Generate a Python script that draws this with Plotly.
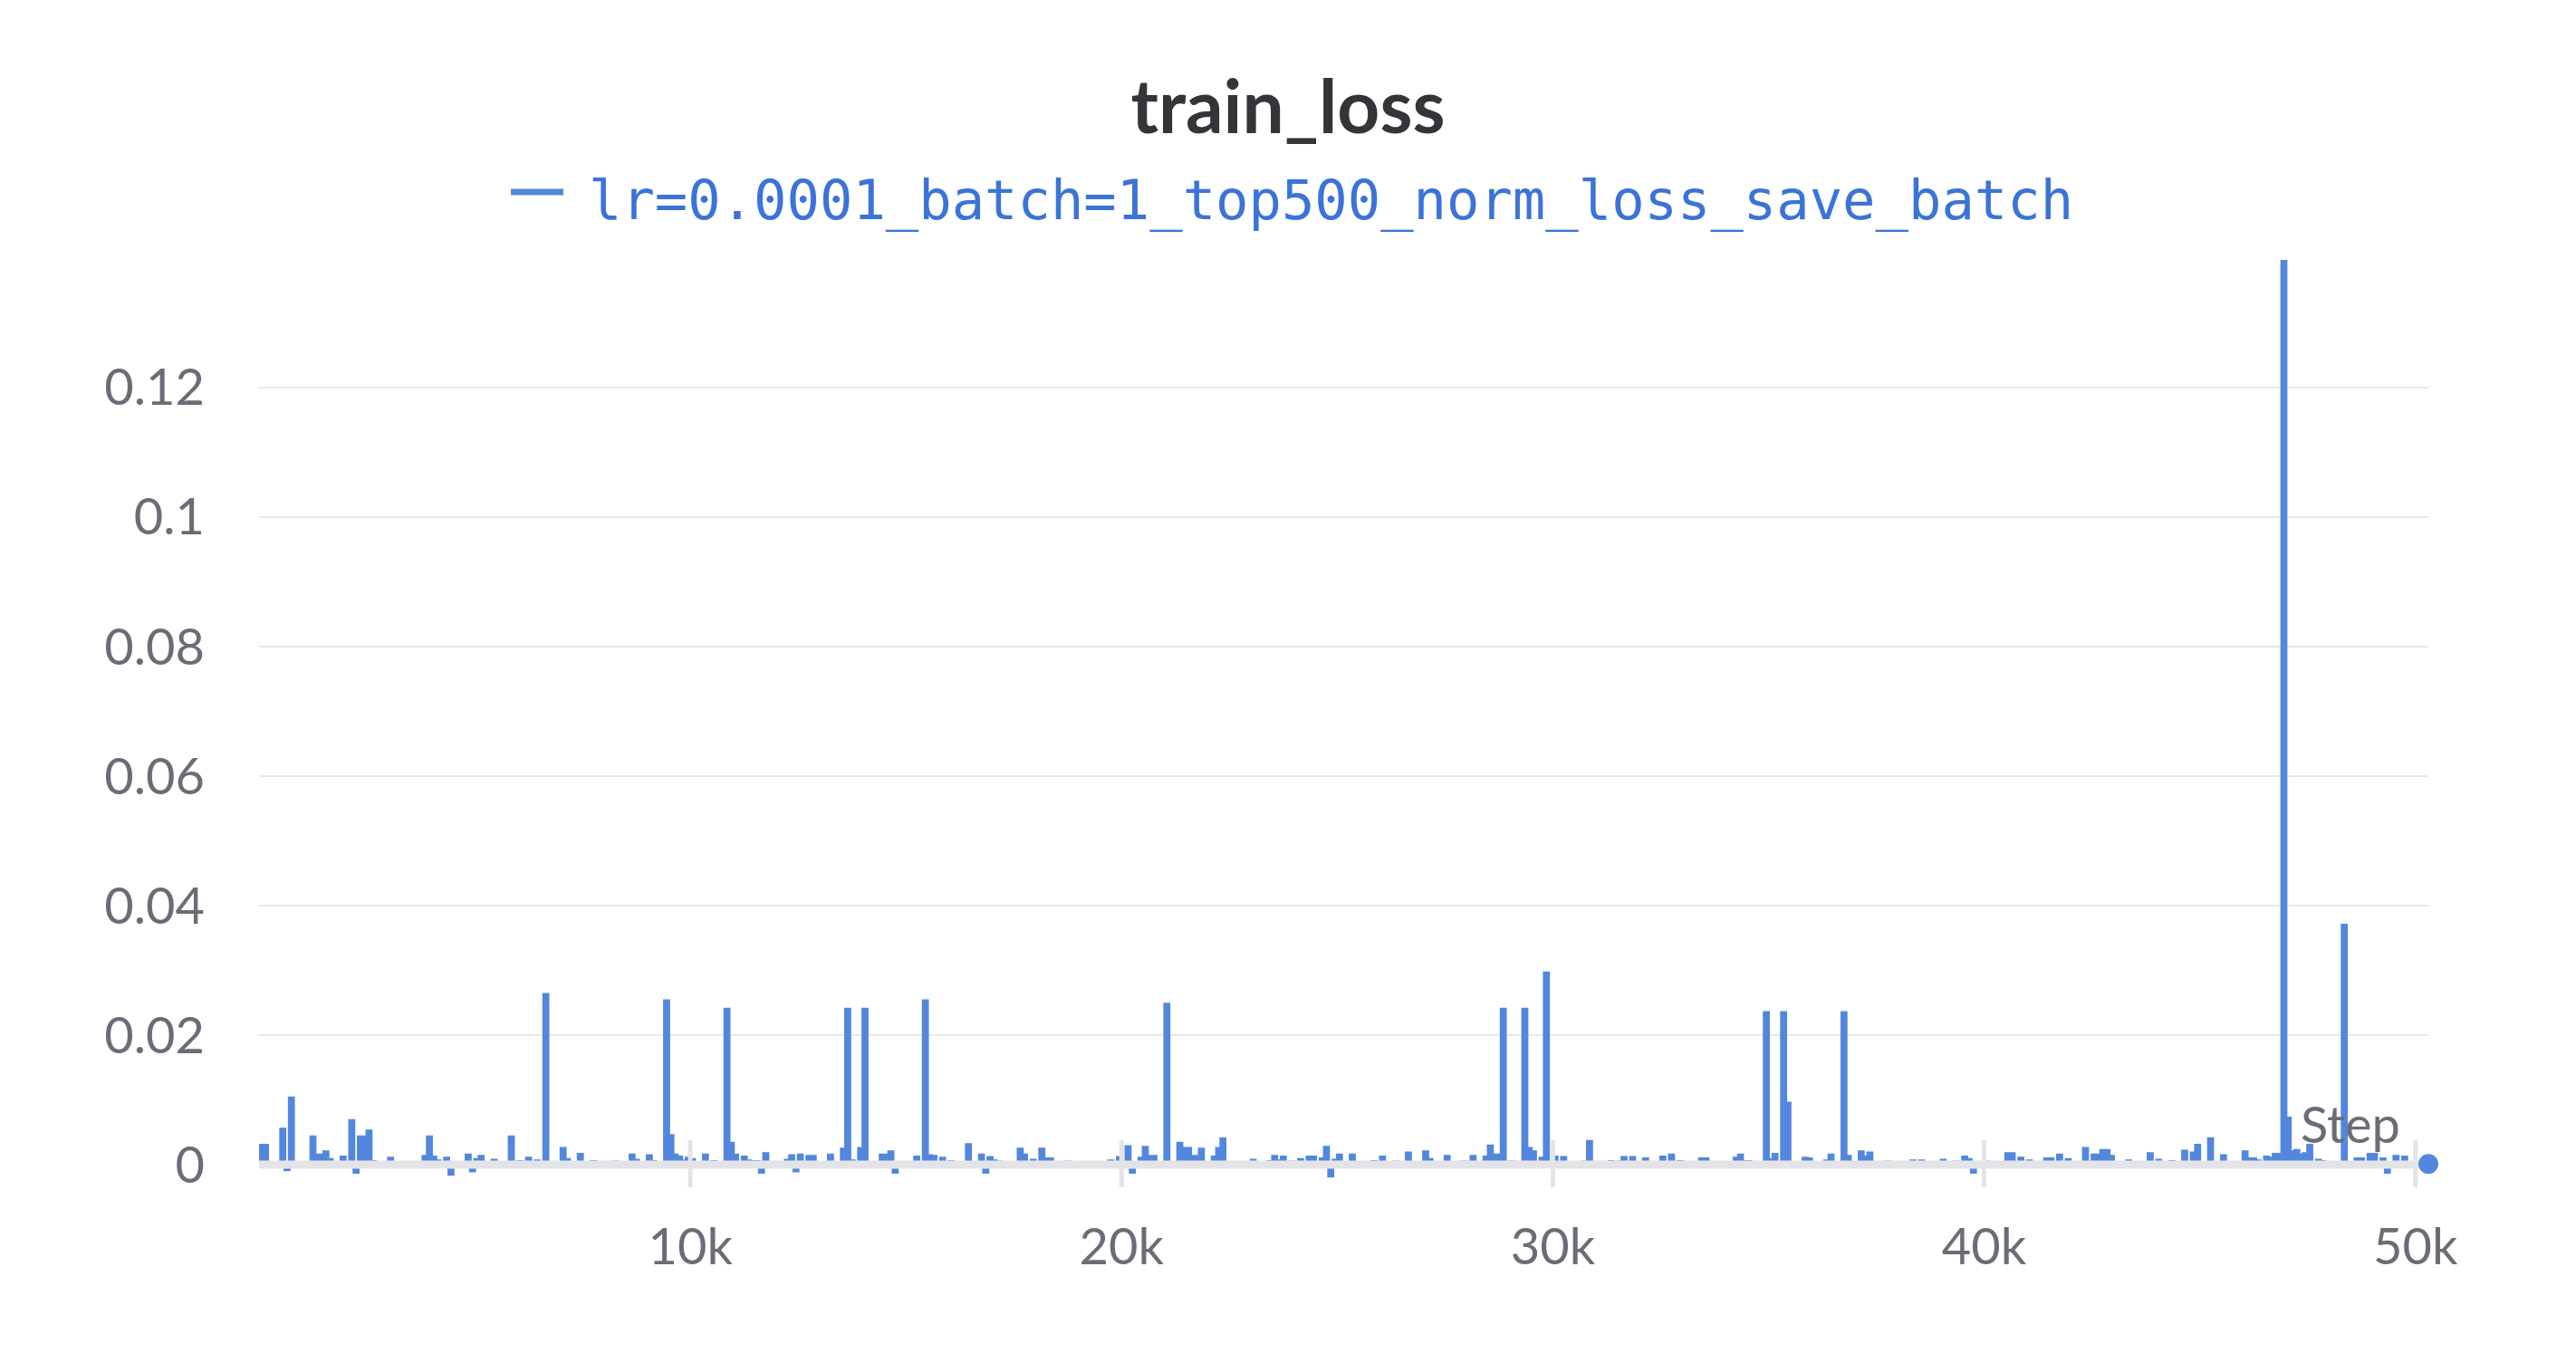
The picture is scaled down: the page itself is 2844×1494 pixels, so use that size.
import plotly.graph_objects as go

# ---- data -------------------------------------------------------------
steps = list(range(0, 50400, 100))
loss = [
    0.0030, 0.0030, 0.0003, 0.0002, 0.0003, 0.0055, -0.0008, 0.0103, 0.0003, 0.0002,
    0.0003, 0.0002, 0.0043, 0.0015, 0.0015, 0.0020, 0.0008, 0.0003, 0.0002, 0.0012,
    0.0003, 0.0068, -0.0012, 0.0043, 0.0043, 0.0052, 0.0005, 0.0003, 0.0002, 0.0003,
    0.0010, 0.0003, 0.0002, 0.0003, 0.0002, 0.0003, 0.0002, 0.0003, 0.0013, 0.0043,
    0.0012, 0.0006, 0.0003, 0.0010, -0.0015, 0.0003, 0.0002, 0.0003, 0.0015, -0.0010,
    0.0008, 0.0013, 0.0003, 0.0002, 0.0007, 0.0002, 0.0003, 0.0002, 0.0043, 0.0003,
    0.0005, 0.0002, 0.0010, 0.0003, 0.0006, 0.0003, 0.0263, 0.0003, 0.0002, 0.0003,
    0.0025, 0.0008, 0.0003, 0.0002, 0.0016, 0.0003, 0.0002, 0.0005, 0.0003, 0.0002,
    0.0003, 0.0002, 0.0004, 0.0003, 0.0002, 0.0003, 0.0015, 0.0007, 0.0003, 0.0002,
    0.0014, 0.0005, 0.0003, 0.0002, 0.0253, 0.0045, 0.0015, 0.0012, 0.0006, 0.0010,
    0.0008, 0.0003, 0.0002, 0.0015, 0.0003, 0.0005, 0.0002, 0.0003, 0.0240, 0.0033,
    0.0015, 0.0003, 0.0012, 0.0006, 0.0005, 0.0005, -0.0012, 0.0017, 0.0003, 0.0002,
    0.0003, 0.0002, 0.0007, 0.0014, -0.0010, 0.0015, 0.0003, 0.0013, 0.0013, 0.0003,
    0.0002, 0.0003, 0.0015, 0.0003, 0.0002, 0.0024, 0.0240, 0.0006, 0.0003, 0.0025,
    0.0240, 0.0003, 0.0002, 0.0003, 0.0015, 0.0015, 0.0020, -0.0012, 0.0003, 0.0002,
    0.0003, 0.0002, 0.0012, 0.0003, 0.0253, 0.0014, 0.0013, 0.0003, 0.0010, 0.0002,
    0.0005, 0.0003, 0.0002, 0.0003, 0.0031, 0.0003, 0.0002, 0.0015, -0.0012, 0.0011,
    0.0006, 0.0004, 0.0002, 0.0003, 0.0002, 0.0003, 0.0024, 0.0015, 0.0003, 0.0007,
    0.0003, 0.0024, 0.0009, 0.0009, 0.0003, 0.0002, 0.0003, 0.0004, 0.0002, 0.0003,
    0.0002, 0.0003, 0.0002, 0.0003, 0.0002, 0.0003, 0.0002, 0.0006, 0.0003, 0.0011,
    0.0003, 0.0028, -0.0012, 0.0003, 0.0010, 0.0027, 0.0013, 0.0013, 0.0003, 0.0002,
    0.0248, 0.0003, 0.0002, 0.0033, 0.0025, 0.0025, 0.0013, 0.0013, 0.0024, 0.0003,
    0.0002, 0.0012, 0.0025, 0.0040, 0.0003, 0.0002, 0.0003, 0.0002, 0.0003, 0.0002,
    0.0007, 0.0003, 0.0002, 0.0003, 0.0005, 0.0013, 0.0006, 0.0012, 0.0003, 0.0004,
    0.0002, 0.0008, 0.0003, 0.0012, 0.0012, 0.0003, 0.0009, 0.0027, -0.0018, 0.0007,
    0.0015, 0.0003, 0.0002, 0.0015, 0.0003, 0.0002, 0.0003, 0.0002, 0.0005, 0.0003,
    0.0012, 0.0002, 0.0003, 0.0004, 0.0002, 0.0003, 0.0018, 0.0003, 0.0002, 0.0003,
    0.0020, 0.0008, 0.0003, 0.0002, 0.0003, 0.0013, 0.0002, 0.0003, 0.0002, 0.0004,
    0.0003, 0.0013, 0.0002, 0.0003, 0.0012, 0.0029, 0.0015, 0.0015, 0.0240, 0.0003,
    0.0004, 0.0002, 0.0003, 0.0240, 0.0025, 0.0020, 0.0003, 0.0010, 0.0296, 0.0003,
    0.0012, 0.0003, 0.0011, 0.0003, 0.0002, 0.0003, 0.0002, 0.0004, 0.0036, 0.0003,
    0.0002, 0.0003, 0.0002, 0.0005, 0.0003, 0.0004, 0.0011, 0.0003, 0.0011, 0.0002,
    0.0003, 0.0009, 0.0002, 0.0003, 0.0002, 0.0012, 0.0003, 0.0015, 0.0003, 0.0005,
    0.0002, 0.0003, 0.0002, 0.0003, 0.0009, 0.0009, 0.0003, 0.0002, 0.0003, 0.0002,
    0.0003, 0.0002, 0.0010, 0.0015, 0.0005, 0.0005, 0.0003, 0.0002, 0.0003, 0.0235,
    0.0008, 0.0016, 0.0003, 0.0235, 0.0095, 0.0003, 0.0002, 0.0003, 0.0010, 0.0009,
    0.0003, 0.0002, 0.0003, 0.0006, 0.0015, 0.0003, 0.0002, 0.0235, 0.0013, 0.0003,
    0.0002, 0.0020, 0.0012, 0.0018, 0.0003, 0.0002, 0.0003, 0.0004, 0.0002, 0.0003,
    0.0002, 0.0003, 0.0002, 0.0006, 0.0003, 0.0006, 0.0002, 0.0003, 0.0002, 0.0003,
    0.0007, 0.0002, 0.0003, 0.0004, 0.0002, 0.0012, 0.0008, -0.0012, 0.0003, 0.0002,
    0.0004, 0.0003, 0.0002, 0.0003, 0.0002, 0.0017, 0.0017, 0.0003, 0.0010, 0.0003,
    0.0006, 0.0002, 0.0003, 0.0002, 0.0009, 0.0009, 0.0003, 0.0015, 0.0003, 0.0008,
    0.0003, 0.0002, 0.0003, 0.0025, 0.0004, 0.0015, 0.0015, 0.0022, 0.0022, 0.0013,
    0.0003, 0.0002, 0.0003, 0.0006, 0.0002, 0.0003, 0.0002, 0.0003, 0.0017, 0.0003,
    0.0007, 0.0002, 0.0003, 0.0005, 0.0002, 0.0003, 0.0021, 0.0003, 0.0018, 0.0030,
    0.0003, 0.0002, 0.0040, 0.0003, 0.0002, 0.0014, 0.0003, 0.0002, 0.0003, 0.0002,
    0.0020, 0.0009, 0.0009, 0.0006, 0.0003, 0.0012, 0.0010, 0.0016, 0.0016, 0.1397,
    0.0072, 0.0020, 0.0022, 0.0015, 0.0017, 0.0030, 0.0003, 0.0007, 0.0005, 0.0003,
    0.0002, 0.0003, 0.0002, 0.0370, 0.0003, 0.0002, 0.0009, 0.0009, 0.0003, 0.0016,
    0.0016, 0.0003, 0.0009, -0.0012, 0.0003, 0.0013, 0.0002, 0.0012, 0.0003, 0.0002,
    0.0003, 0.0002, 0.0003, 0.0001,
]
y_tick_vals = [0, 0.02, 0.04, 0.06, 0.08, 0.1, 0.12]
y_tick_text = ["0", "0.02", "0.04", "0.06", "0.08", "0.1", "0.12"]
x_tick_vals = [10000, 20000, 30000, 40000, 50000]
x_tick_text = ["10k", "20k", "30k", "40k", "50k"]
run_name = "lr=0.0001_batch=1_top500_norm_loss_save_batch"
chart_title = "train_loss"
x_title = "Step"

# ---- style ------------------------------------------------------------
LINE = "#5387dd"
LEGEND_TEXT = "#3b73d8"
GRID = "#e9e9ec"
AXIS = "#e4e4e8"
TICK_COLOR = "#6c6c76"
FONT = "Lato"

W, H = 2828, 1478   # page body keeps an 8px margin around the figure

fig = go.Figure()
fig.add_trace(go.Scatter(
    x=steps, y=loss, mode="lines",
    line=dict(color=LINE, width=3, shape="hv"),
    fill="tozeroy", fillcolor=LINE, hoverinfo="skip", showlegend=False,
))
# axis baseline drawn over the area, under the end marker
fig.add_trace(go.Scatter(
    x=[steps[0], steps[-1]], y=[0, 0], mode="lines",
    line=dict(color=AXIS, width=9), hoverinfo="skip", showlegend=False,
))
fig.add_trace(go.Scatter(
    x=[steps[-1]], y=[loss[-1]], mode="markers", cliponaxis=False,
    marker=dict(color=LINE, size=22), hoverinfo="skip", showlegend=False,
))

# tick marks crossing the baseline
for tv in x_tick_vals:
    fig.add_shape(type="line", xref="x", yref="y", x0=tv, x1=tv,
                  ysizemode="pixel", yanchor=0, y0=-26, y1=27,
                  line=dict(color=AXIS, width=5), layer="above")

# manual legend
fig.add_shape(type="line", xref="paper", yref="paper",
              x0=0.1161, x1=0.1403, y0=1.0732, y1=1.0732,
              line=dict(color=LINE, width=7))
fig.add_annotation(text=run_name, xref="paper", yref="paper",
                   x=0.1512, y=1.0645, xanchor="left", yanchor="middle",
                   showarrow=False,
                   font=dict(family="DejaVu Sans Mono", size=60.5, color=LEGEND_TEXT))

# x-axis title at the right end, above the baseline
fig.add_annotation(text=x_title, xref="paper", yref="y", x=1, y=0,
                   xanchor="right", yanchor="bottom", xshift=-29, yshift=10,
                   showarrow=False,
                   font=dict(family=FONT, size=56, color=TICK_COLOR))

fig.update_layout(
    width=W, height=H,
    margin=dict(l=278, r=155, t=279, b=175),
    paper_bgcolor="white", plot_bgcolor="white",
    showlegend=False,
    title=dict(text=chart_title, x=0.5, xanchor="center", xref="container",
               y=1 - 110 / H, yanchor="middle", yref="container",
               font=dict(family=FONT, size=82, color="#333538", weight="bold")),
    xaxis=dict(range=[0, steps[-1]], tickvals=x_tick_vals, ticktext=x_tick_text,
               showgrid=False, zeroline=False, showline=False, ticks="",
               tickfont=dict(family=FONT, size=56, color=TICK_COLOR),
               ticklabelstandoff=28),
    yaxis=dict(range=[-0.0035, 0.1397], tickvals=y_tick_vals, ticktext=y_tick_text,
               showgrid=True, gridcolor=GRID, gridwidth=2,
               zeroline=False, showline=False, ticks="",
               tickfont=dict(family=FONT, size=56, color=TICK_COLOR),
               ticklabelstandoff=59),
)

fig.write_html("out.html", config={"displayModeBar": False})
